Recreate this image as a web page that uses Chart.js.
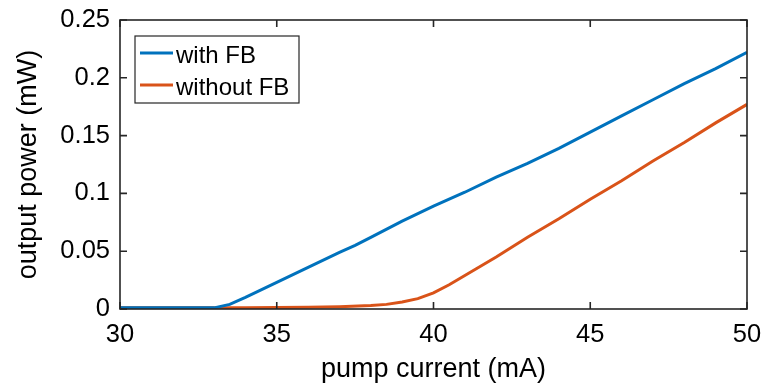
<!DOCTYPE html>
<html>
<head>
<meta charset="utf-8">
<script src="https://cdn.jsdelivr.net/npm/chart.js@4"></script>
<style>
  html, body { margin: 0; padding: 0; background: #fff; }
  #wrap { width: 765px; height: 390px; }
</style>
</head>
<body>
<div id="wrap"><canvas id="chart"></canvas></div>
<script>
// values
const currentWithFB = [30, 31, 32, 33, 33.5, 34, 35, 36, 37, 37.5, 38, 39, 40, 41, 42, 43, 44, 45, 46, 47, 48, 49, 50];
const powerWithFB   = [0.001, 0.001, 0.001, 0.001, 0.004, 0.010, 0.023, 0.036, 0.049, 0.055, 0.062, 0.076, 0.089, 0.101, 0.114, 0.126, 0.139, 0.153, 0.167, 0.181, 0.195, 0.208, 0.222];

const currentWithoutFB = [30, 32, 34, 36, 37, 38, 38.5, 39, 39.5, 40, 40.5, 41, 41.5, 42, 43, 44, 45, 46, 47, 48, 49, 50];
const powerWithoutFB   = [0.001, 0.001, 0.001, 0.0015, 0.002, 0.003, 0.004, 0.006, 0.009, 0.014, 0.021, 0.029, 0.037, 0.045, 0.062, 0.078, 0.095, 0.111, 0.128, 0.144, 0.161, 0.177];

const seriesLabels = ['with FB', 'without FB'];
const xTicks = [30, 35, 40, 45, 50];
const yTicks = [0, 0.05, 0.1, 0.15, 0.2, 0.25];
const yTickLabels = ['0', '0.05', '0.1', '0.15', '0.2', '0.25'];

const FONT = 'Liberation Sans, Arial, Helvetica, sans-serif';
const AXIS_COLOR = '#262626';

const toPoints = (xs, ys) => xs.map((x, i) => ({ x: x, y: ys[i] }));

// axes box, inward ticks and the legend, MATLAB style
const matlabFrame = {
    id: 'matlabFrame',
    afterDraw(chart) {
        const ctx = chart.ctx;
        const a = chart.chartArea;
        const xs = chart.scales.x, ys = chart.scales.y;
        const tl = 7;
        ctx.save();
        ctx.strokeStyle = AXIS_COLOR;
        ctx.lineWidth = 1.6;
        ctx.strokeRect(a.left, a.top, a.right - a.left, a.bottom - a.top);
        ctx.beginPath();
        xTicks.forEach(v => {
            const px = xs.getPixelForValue(v);
            ctx.moveTo(px, a.bottom); ctx.lineTo(px, a.bottom - tl);
            ctx.moveTo(px, a.top); ctx.lineTo(px, a.top + tl);
        });
        yTicks.forEach(v => {
            const py = ys.getPixelForValue(v);
            ctx.moveTo(a.left, py); ctx.lineTo(a.left + tl, py);
            ctx.moveTo(a.right, py); ctx.lineTo(a.right - tl, py);
        });
        ctx.stroke();

        // legend box
        const lx = a.left + 15, ly = a.top + 16, lw = 164, lh = 67;
        ctx.fillStyle = '#fff';
        ctx.fillRect(lx, ly, lw, lh);
        ctx.strokeStyle = AXIS_COLOR;
        ctx.lineWidth = 1.2;
        ctx.strokeRect(lx, ly, lw, lh);
        ctx.font = '24px ' + FONT;
        ctx.textBaseline = 'middle';
        chart.data.datasets.forEach((ds, i) => {
            const cy = ly + 17 + i * 32;
            ctx.strokeStyle = ds.borderColor;
            ctx.lineWidth = 3;
            ctx.beginPath();
            ctx.moveTo(lx + 5, cy); ctx.lineTo(lx + 38, cy);
            ctx.stroke();
            ctx.fillStyle = '#000';
            ctx.fillText(ds.label, lx + 41, cy + 3);
        });
        ctx.restore();
    }
};

const ctx = document.getElementById('chart').getContext('2d');
const chart = new Chart(ctx, {
    type: 'line',
    data: {
        datasets: [{
            label: seriesLabels[0],
            data: toPoints(currentWithFB, powerWithFB),
            borderColor: '#0072BD',
            borderWidth: 3,
            pointRadius: 0,
            tension: 0
        }, {
            label: seriesLabels[1],
            data: toPoints(currentWithoutFB, powerWithoutFB),
            borderColor: '#D95319',
            borderWidth: 3,
            pointRadius: 0,
            tension: 0
        }]
    },
    options: {
        responsive: true,
        maintainAspectRatio: false,
        animation: false,
        layout: { padding: { top: 20, right: 18, left: 0, bottom: 0 } },
        plugins: {
            legend: { display: false },
            tooltip: { enabled: false }
        },
        scales: {
            x: {
                type: 'linear',
                min: 30,
                max: 50,
                afterBuildTicks: s => { s.ticks = xTicks.map(v => ({ value: v })); },
                afterFit: s => { s.height = 81; s.paddingLeft = 0; s.paddingRight = 0; },
                grid: { display: false, drawTicks: false },
                border: { display: false },
                ticks: {
                    color: '#000',
                    padding: 11,
                    maxRotation: 0,
                    font: { family: FONT, size: 25.5 }
                },
                title: {
                    display: true,
                    text: 'pump current (mA)',
                    color: '#000',
                    padding: { top: 0, bottom: 4 },
                    font: { family: FONT, size: 27 }
                }
            },
            y: {
                type: 'linear',
                min: 0,
                max: 0.25,
                afterBuildTicks: s => { s.ticks = yTicks.map(v => ({ value: v })); },
                afterFit: s => { s.width = 120; s.paddingTop = 0; s.paddingBottom = 0; },
                grid: { display: false, drawTicks: false },
                border: { display: false },
                ticks: {
                    color: '#000',
                    padding: 10,
                    font: { family: FONT, size: 25.5 },
                    callback: value => yTickLabels[yTicks.indexOf(value)] ?? String(value)
                },
                title: {
                    display: true,
                    text: 'output power (mW)',
                    color: '#000',
                    padding: { top: 12, bottom: 0 },
                    font: { family: FONT, size: 27 }
                }
            }
        }
    },
    plugins: [matlabFrame]
});
</script>
</body>
</html>
